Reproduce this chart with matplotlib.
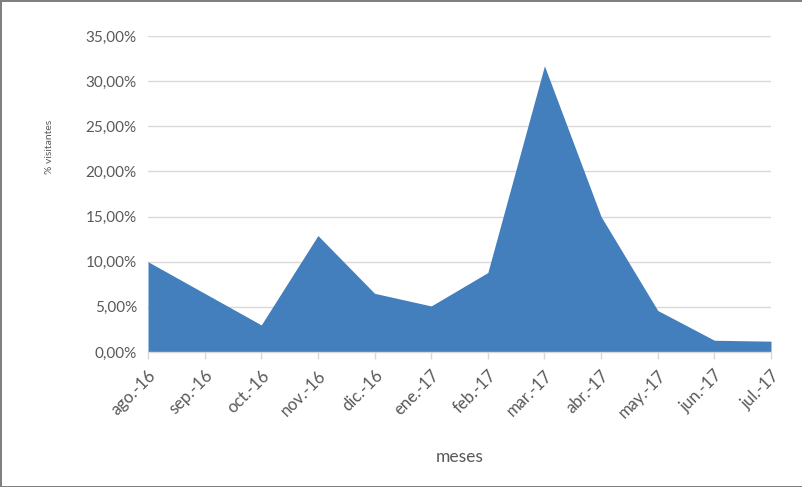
import matplotlib
matplotlib.use("Agg")
import matplotlib.pyplot as plt
from matplotlib.ticker import FuncFormatter, MultipleLocator

meses = ["ago.-16", "sep.-16", "oct.-16", "nov.-16", "dic.-16", "ene.-17",
         "feb.-17", "mar.-17", "abr.-17", "may.-17", "jun.-17", "jul.-17"]
visitantes = [10.0, 6.5, 3.0, 12.9, 6.5, 5.1, 8.8, 31.7, 15.0, 4.6, 1.3, 1.2]

plt.rcParams['font.family'] = ['Lato', 'DejaVu Sans']
txt = '#595959'
fig = plt.figure(figsize=(8.03, 4.87), dpi=100)
fig.patch.set_edgecolor('#808080')
fig.patch.set_linewidth(1.0)
ax = fig.add_axes([148/803, 1-352/487, (771-148)/803, (352-36)/487])

x = list(range(len(meses)))
ax.fill_between(x, visitantes, 0, color='#437EBD', linewidth=0, zorder=2)
ax.set_xlim(0, len(meses)-1)
ax.set_ylim(0, 35)
ax.yaxis.set_major_locator(MultipleLocator(5))
ax.yaxis.set_major_formatter(FuncFormatter(lambda v, p: f"{v:.2f}%".replace('.', ',')))
ax.grid(axis='y', color='#d9d9d9', linewidth=1, zorder=0)
ax.set_axisbelow(True)
for s in ['top', 'right', 'left']:
    ax.spines[s].set_visible(False)
ax.spines['bottom'].set_color('#d9d9d9')
ax.spines['bottom'].set_linewidth(1)
ax.spines['bottom'].set_zorder(3)
ax.set_xticks(x)
ax.set_xticklabels(meses, rotation=45, ha='right', rotation_mode='anchor')
ax.tick_params(axis='x', colors='#d9d9d9', length=5, width=1, labelcolor=txt, labelsize=12, pad=6)
ax.tick_params(axis='y', length=0, labelcolor=txt, labelsize=11, pad=8)
ax.set_xlabel("meses", color=txt, fontsize=12.5, labelpad=20)
fig.text(50/803, 1-147/487, "% visitantes", rotation=90, color=txt, fontsize=7.5,
         ha='center', va='center')
fig.savefig("out.png", dpi=100)
